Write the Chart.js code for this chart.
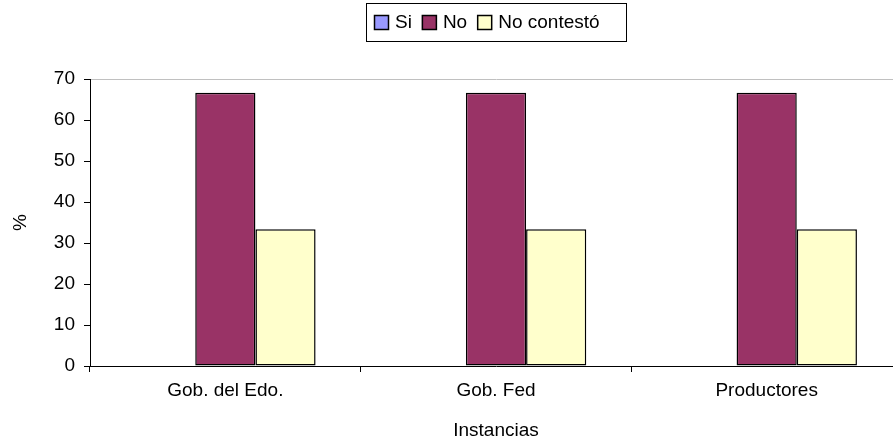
<!DOCTYPE html>
<html>
<head>
<meta charset="utf-8">
<script src="https://cdn.jsdelivr.net/npm/chart.js@4/dist/chart.umd.min.js"></script>
<style>
  html, body { margin: 0; padding: 0; background: #fff; overflow: hidden; }
  #wrap { width: 905px; height: 444px; }
</style>
</head>
<body>
<div id="wrap"><canvas id="barChart"></canvas></div>
<script>
// Chart data
const categories = ['Gob. del Edo.', 'Gob. Fed', 'Productores'];
const siValues = [0, 0, 0];
const noValues = [66.67, 66.67, 66.67];
const noContestoValues = [33.33, 33.33, 33.33];
const yTicks = [0, 10, 20, 30, 40, 50, 60, 70];

const FONT = 'Arial, "Liberation Sans", sans-serif';
const FONT_SIZE = 19;

// Excel-style legend in a bordered box at the top
const boxedLegend = {
  id: 'boxedLegend',
  afterDraw(chart) {
    const ctx = chart.ctx;
    const items = chart.data.datasets.map(ds => ({ label: ds.label, color: ds.backgroundColor }));
    ctx.save();
    ctx.font = FONT_SIZE + 'px ' + FONT;
    ctx.textBaseline = 'middle';
    const sq = 15, gapAfterSq = 6, gapItem = 10;
    ctx.strokeStyle = '#000';
    ctx.lineWidth = 1;
    ctx.strokeRect(366.5, 3.5, 260, 38);
    let x = 374;
    const cy = 23;
    items.forEach(it => {
      ctx.fillStyle = it.color;
      ctx.fillRect(x, cy - 8, sq, sq);
      ctx.strokeStyle = '#000';
      ctx.lineWidth = 1.5;
      ctx.strokeRect(x + 0.5, cy - 7.5, sq - 1, sq - 1);
      x += sq + gapAfterSq;
      ctx.fillStyle = '#000';
      ctx.fillText(it.label, x, cy);
      x += ctx.measureText(it.label).width + gapItem;
    });
    ctx.restore();
  }
};

new Chart(document.getElementById('barChart').getContext('2d'), {
  type: 'bar',
  data: {
    labels: categories,
    datasets: [{
      label: 'Si',
      data: siValues,
      backgroundColor: '#9999FF'
    }, {
      label: 'No',
      data: noValues,
      backgroundColor: '#993366'
    }, {
      label: 'No contestó',
      data: noContestoValues,
      backgroundColor: '#FFFFCC'
    }].map(ds => Object.assign(ds, {
      borderColor: '#000',
      borderWidth: 1.5,
      borderSkipped: false,
      categoryPercentage: 0.667,
      barPercentage: 1
    }))
  },
  options: {
    responsive: true,
    maintainAspectRatio: false,
    animation: false,
    layout: { padding: { top: 79, right: 3, left: 0, bottom: 0 } },
    plugins: {
      legend: { display: false },
      tooltip: { enabled: false }
    },
    scales: {
      x: {
        afterFit: s => { s.height = 78; },
        border: { color: '#000', width: 1 },
        grid: {
          offset: true,
          color: 'rgba(0,0,0,0)',
          tickColor: '#000',
          tickLength: 6
        },
        ticks: {
          color: '#000',
          padding: 7,
          font: { family: FONT, size: FONT_SIZE }
        },
        title: {
          display: true,
          text: 'Instancias',
          color: '#000',
          padding: { top: 0, bottom: 2 },
          font: { family: FONT, size: FONT_SIZE }
        }
      },
      y: {
        min: 0,
        max: 70,
        afterFit: s => { s.width = 90; },
        afterBuildTicks: s => { s.ticks = yTicks.map(v => ({ value: v })); },
        border: { color: '#000', width: 1 },
        grid: {
          color: c => (c.tick && c.tick.value === 70 ? '#c0c0c0' : 'rgba(0,0,0,0)'),
          tickColor: '#000',
          tickLength: 6
        },
        ticks: {
          color: '#000',
          padding: 9,
          font: { family: FONT, size: FONT_SIZE }
        },
        title: {
          display: true,
          text: '%',
          color: '#000',
          padding: { top: 9, bottom: 0 },
          font: { family: FONT, size: FONT_SIZE }
        }
      }
    }
  },
  plugins: [boxedLegend]
});
</script>
</body>
</html>
